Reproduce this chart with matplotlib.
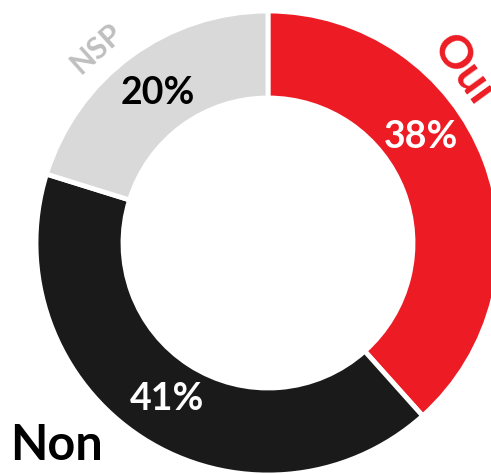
import numpy as np
import matplotlib.pyplot as plt

labels = ['Oui', 'Non', 'NSP']
values = [38, 41, 20]
colors = ['#ED1C24', '#1A1A1A', '#D9D9D9']
pct_colors = ['white', 'white', 'black']
label_colors = ['#ED1C24', 'black', '#BFBFBF']

plt.rcParams['font.family'] = ['Lato', 'DejaVu Sans']

fig = plt.figure(figsize=(4.91, 4.74), dpi=100)
ax = fig.add_axes([0, 0, 1, 1])

cx, cy, R = 268, 231, 232
wedges, _ = ax.pie(values, colors=colors, startangle=90, counterclock=False,
                   radius=R, center=(cx, cy), frame=True,
                   wedgeprops=dict(width=87, edgecolor='white', linewidth=3.5))
ax.set_xlim(0, 491)
ax.set_ylim(0, 474)
ax.set_aspect('equal')
ax.axis('off')

# percentage labels at the middle of each wedge (Oui moved up a bit, as in the original)
for i, w in enumerate(wedges):
    ang = (w.theta1 + w.theta2) / 2
    r = 186
    if i == 0:
        ang += 14
    x = cx + r * np.cos(np.radians(ang))
    y = cy + r * np.sin(np.radians(ang))
    ax.text(x, y, f'{values[i]}%', ha='center', va='center', fontsize=27,
            fontweight='bold', color=pct_colors[i])

# category names; 'Oui' runs off the right edge as in the original
ax.text(463, 404, 'Oui', ha='center', va='center', fontsize=33, fontweight='bold',
        color=label_colors[0], rotation=-54)
ax.text(57, 28, 'Non', ha='center', va='center', fontsize=35, fontweight='bold',
        color=label_colors[1])
ax.text(96, 426, 'NSP', ha='center', va='center', fontsize=22, fontweight='bold',
        color=label_colors[2], rotation=42)

fig.savefig('out.png', dpi=100)
